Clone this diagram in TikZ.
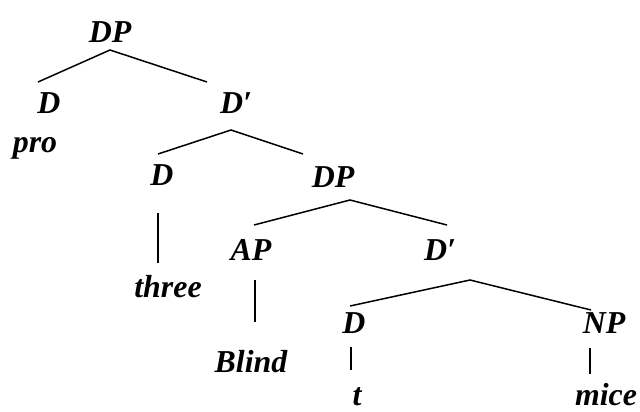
\documentclass[tikz,border=0pt]{standalone}
\usepackage{fontspec}
\setmainfont{Liberation Serif}
\tikzset{
  lab/.style={anchor=base, inner sep=0pt, font=\fontsize{32}{36}\selectfont\bfseries\itshape},
  br/.style={line width=1.5bp, black}
}
\begin{document}
\begin{tikzpicture}[x=1bp,y=-1bp]
\useasboundingbox (0,0) rectangle (640,411);
% labels
\node[lab] (dp1) at (110,42) {DP};
\node[lab] (d1) at (49,113) {D};
\node[lab] (pro) at (35,152) {pro};
\node[lab] (db1) at (236,113) {D′};
\node[lab] (d2) at (162,185) {D};
\node[lab] (dp2) at (333,187) {DP};
\node[lab] (three) at (168,297) {three};
\node[lab] (ap) at (251,260) {AP};
\node[lab] (blind) at (251,372) {Blind};
\node[lab] (db2) at (440,260) {D′};
\node[lab] (d3) at (354,333) {D};
\node[lab] (np) at (604,333) {NP};
\node[lab] (t) at (357,405) {t};
\node[lab] (mice) at (606,405) {mice};
% attachment points
\coordinate (dp1b) at (110,50);
\coordinate (d1t) at (38,82);
\coordinate (db1t) at (207,82);
\coordinate (db1b) at (231,130);
\coordinate (d2t) at (158,154);
\coordinate (dp2t) at (303,154);
\coordinate (d2b) at (158,213);
\coordinate (threet) at (158,263);
\coordinate (dp2b) at (350,200);
\coordinate (apt) at (254,225);
\coordinate (db2t) at (447,225);
\coordinate (apb) at (255,280);
\coordinate (blindt) at (255,322);
\coordinate (db2b) at (470,280);
\coordinate (d3t) at (350,306);
\coordinate (npt) at (591,310);
\coordinate (d3b) at (351,347);
\coordinate (tt) at (351,370);
\coordinate (npb) at (590,348);
\coordinate (micet) at (590,374);
% branches
\draw[br] (d1t) -- (dp1b) -- (db1t);
\draw[br] (d2t) -- (db1b) -- (dp2t);
\draw[br] (d2b) -- (threet);
\draw[br] (apt) -- (dp2b) -- (db2t);
\draw[br] (apb) -- (blindt);
\draw[br] (d3t) -- (db2b) -- (npt);
\draw[br] (d3b) -- (tt);
\draw[br] (npb) -- (micet);
\end{tikzpicture}
\end{document}
